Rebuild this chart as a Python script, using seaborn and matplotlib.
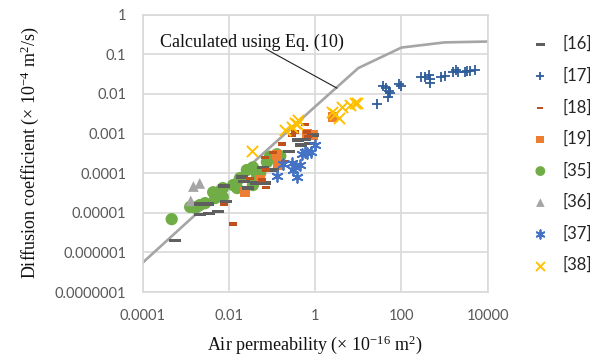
import matplotlib
matplotlib.use("Agg")
import matplotlib.pyplot as plt
import seaborn as sns
import numpy as np
import pandas as pd

# ---- data ----
eq_x = [0.0001, 0.001, 0.01, 0.1, 1, 10, 100, 1000, 10000]
eq_y = [5.5e-7, 5.4e-6, 5.2e-5, 5.0e-4, 4.8e-3, 0.045, 0.148, 0.20, 0.21]

s16_x = [0.00056, 0.0021, 0.0035, 0.0056, 0.0021, 0.0033, 0.0085, 0.0077, 0.020, 0.022,
         0.028, 0.042, 0.069, 0.062, 0.105, 0.245, 0.40, 0.47, 0.76, 0.89, 0.59]
s16_y = [2e-6, 9e-6, 9.5e-6, 1.07e-5, 1.66e-5, 1.66e-5, 1.95e-5, 4.7e-5, 8e-5, 6.1e-5,
         4.2e-5, 5.6e-5, 5.6e-5, 1.4e-4, 1.2e-4, 3.5e-4, 6.9e-4, 5.1e-4, 5.7e-4, 9.1e-4, 7.2e-4]

s17_x = [27, 38, 44, 52, 50, 55, 97, 90, 280, 355, 447, 468, 468, 820, 1020, 1600, 1850,
         2100, 3000, 3300, 3800, 5200]
s17_y = [0.0055, 0.016, 0.0138, 0.0118, 0.0085, 0.0107, 0.016, 0.0175, 0.027, 0.027, 0.030,
         0.024, 0.0186, 0.027, 0.029, 0.035, 0.040, 0.036, 0.035, 0.039, 0.039, 0.040]

s18_x = [0.0126, 0.0077, 0.031, 0.059, 0.073, 0.073, 0.069, 0.105, 0.17, 0.20, 0.29, 0.34,
         0.59, 0.65, 0.69]
s18_y = [5.2e-6, 1.6e-5, 7.4e-5, 6.7e-5, 4.3e-5, 1.2e-4, 2.5e-4, 3.3e-4, 5.4e-4, 2.0e-4,
         9.2e-4, 1.1e-3, 1.7e-3, 1.1e-3, 8.3e-4]

s19_x = [2.6, 0.65, 0.89, 0.13, 0.14, 0.053, 0.024]
s19_y = [0.0026, 0.00097, 0.00092, 0.00029, 0.00016, 6.7e-5, 3.3e-5]

s35_x = [0.00047, 0.00126, 0.00163, 0.0021, 0.0028, 0.0043, 0.0048, 0.0062, 0.0072, 0.0072,
         0.0125, 0.0155, 0.018, 0.026, 0.036, 0.036, 0.045, 0.053, 0.076, 0.089, 0.13, 0.155]
s35_y = [6.9e-6, 1.4e-5, 1.35e-5, 1.56e-5, 1.75e-5, 3.3e-5, 2.35e-5, 3.5e-5, 4.2e-5, 2.5e-5,
         5e-5, 4.2e-5, 7.5e-5, 1.2e-4, 1.4e-4, 5e-5, 8.9e-5, 1.0e-4, 1.9e-4, 2.6e-4, 3.0e-4, 2.7e-4]

s36_x = [0.0015, 0.0021, 0.0013]
s36_y = [4.6e-5, 5.5e-5, 2.0e-5]

s37_x = [0.13, 0.18, 0.29, 0.34, 0.45, 0.38, 0.50, 0.59, 0.65, 0.81, 1.0, 0.31]
s37_y = [8.5e-5, 1.7e-4, 1.8e-4, 1.4e-4, 1.6e-4, 8.2e-5, 3.0e-4, 3.4e-4, 3.2e-4, 3.4e-4,
         5.1e-4, 1.2e-4]

s38_x = [0.035, 0.20, 0.29, 0.34, 0.40, 0.38, 2.4, 2.9, 3.5, 4.2, 6.5, 8.5, 9.5]
s38_y = [0.00037, 0.0012, 0.00145, 0.0019, 0.0022, 0.0017, 0.0035, 0.0031, 0.0024, 0.0048,
         0.0053, 0.006, 0.0058]

x_ticks = [0.0001, 0.01, 1, 100, 10000]
x_tick_labels = ["0.0001", "0.01", "1", "100", "10000"]
y_ticks = [1e-7, 1e-6, 1e-5, 1e-4, 1e-3, 1e-2, 1e-1, 1]
y_tick_labels = ["0.0000001", "0.000001", "0.00001", "0.0001", "0.001", "0.01", "0.1", "1"]

note_text = "Calculated using Eq. (10)"
note_pos = (0.00025, 0.2)
leader_x = [0.072, 3.2]
leader_y = [0.136, 0.014]

# ---- style ----
sns.set_style("white")
plt.rcParams["font.family"] = ["Lato", "DejaVu Sans"]
plt.rcParams["mathtext.fontset"] = "custom"
plt.rcParams["mathtext.rm"] = "Liberation Serif"
plt.rcParams["mathtext.it"] = "Liberation Serif:italic"

fig = plt.figure(figsize=(5.97, 3.60), dpi=100)
ax = fig.add_axes([142.7 / 597, 1 - 292 / 360, (487.7 - 142.7) / 597, (292 - 14.7) / 360])

grid_c = "#D9D9D9"
sns.lineplot(x=eq_x, y=eq_y, ax=ax, color="#A5A5A5", linewidth=1.9, zorder=2, legend=False)

dash16 = [(-1, -0.28), (1, -0.28), (1, 0.28), (-1, 0.28), (-1, -0.28)]
dash18 = [(-1, -0.42), (1, -0.42), (1, 0.42), (-1, 0.42), (-1, -0.42)]

sns.scatterplot(x=s35_x, y=s35_y, ax=ax, marker="o", s=78, color="#70AD47",
                edgecolor="none", label="[35]", zorder=3)
sns.scatterplot(x=s36_x, y=s36_y, ax=ax, marker="^", s=60, color="#A5A5A5",
                edgecolor="none", label="[36]", zorder=3)
sns.scatterplot(x=s19_x, y=s19_y, ax=ax, marker="s", s=50, color="#ED7D31",
                edgecolor="none", label="[19]", zorder=3)
sns.scatterplot(x=s16_x, y=s16_y, ax=ax, marker=dash16, s=75, color="#5F5F5F",
                edgecolor="none", label="[16]", zorder=4)
sns.scatterplot(x=s18_x, y=s18_y, ax=ax, marker=dash18, s=32, color="#C0501C",
                edgecolor="none", label="[18]", zorder=4)
sns.scatterplot(x=s37_x, y=s37_y, ax=ax, marker=(6, 2, 0), s=60, color="#4472C4",
                edgecolor="#4472C4", linewidth=1.3, label="[37]", zorder=5)
sns.scatterplot(x=s38_x, y=s38_y, ax=ax, marker="x", s=65, color="#FFC000",
                edgecolor="#FFC000", linewidth=1.4, label="[38]", zorder=5)
sns.scatterplot(x=s17_x, y=s17_y, ax=ax, marker="+", s=60, color="#2F5D9A",
                edgecolor="#2F5D9A", linewidth=1.3, label="[17]", zorder=5)

ax.set_xscale("log")
ax.set_yscale("log")
ax.set_xlim(0.0001, 10000)
ax.set_ylim(1e-7, 1)
ax.set_xticks(x_ticks)
ax.set_xticklabels(x_tick_labels)
ax.set_yticks(y_ticks)
ax.set_yticklabels(y_tick_labels)
ax.minorticks_off()
ax.tick_params(axis="both", length=0, labelsize=10.5, labelcolor="#595959")
ax.tick_params(axis="x", pad=12)
ax.tick_params(axis="y", pad=12)
ax.grid(True, color=grid_c, linewidth=1.2)
ax.set_axisbelow(True)
for sp in ax.spines.values():
    sp.set_color(grid_c)
    sp.set_linewidth(1.2)

ax.set_xlabel(r"Air permeability ($\times$ 10$^{\mathrm{-16}}$ m$^{\mathrm{2}}$)",
              fontsize=13, family="Liberation Serif", color="#111111", labelpad=8)
ax.set_ylabel(r"Diffusion coefficient ($\times$ 10$^{\mathrm{-4}}$ m$^{\mathrm{2}}$/s)",
              fontsize=13, family="Liberation Serif", color="#111111", labelpad=10)

ax.text(note_pos[0], note_pos[1], note_text, family="Liberation Serif", fontsize=13,
        color="#111111", va="center", ha="left", zorder=6)
ax.plot(leader_x, leader_y, color="#222222", linewidth=0.8, zorder=6)

handles, labels = ax.get_legend_handles_labels()
order = ["[16]", "[17]", "[18]", "[19]", "[35]", "[36]", "[37]", "[38]"]
hmap = dict(zip(labels, handles))
leg = fig.legend([hmap[k] for k in order], order, loc="upper left",
                 bbox_to_anchor=(532 / 597, 1 - 36 / 360), frameon=False,
                 fontsize=12, handlelength=1.0, handletextpad=0.8,
                 labelspacing=0.92, borderpad=0, borderaxespad=0, markerscale=0.8)
for t in leg.get_texts():
    t.set_color("#262626")
if ax.get_legend():
    ax.get_legend().remove()

fig.savefig("out.png", dpi=100)
